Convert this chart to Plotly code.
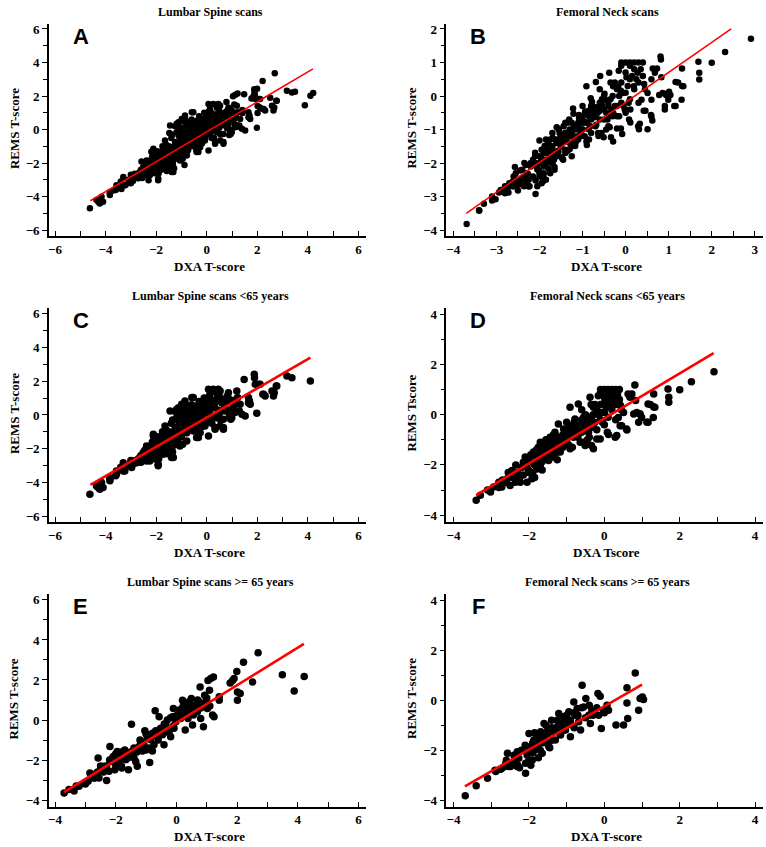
import plotly.graph_objects as go

# ---------------- data ----------------
# Lumbar spine, >= 65 years (panel E)
e_pts = [(-3.70,-3.64),(-3.54,-3.47),(-3.37,-3.55),(-3.21,-3.31),(-3.04,-3.14),(-2.91,-3.06),(-2.85,-2.64),
 (-2.71,-2.89),(-2.58,-1.90),(-2.55,-2.89),(-2.49,-2.43),(-2.38,-2.31),(-2.30,-3.02),(-2.22,-2.56),(-2.19,-1.32),
 (-2.14,-2.07),(-2.08,-1.82),(-2.03,-2.48),(-2.00,-2.23),(-1.95,-1.57),(-1.89,-2.07),(-1.84,-1.74),(-1.81,-2.31),
 (-1.75,-1.57),(-1.67,-1.98),(-1.62,-1.74),(-1.58,-2.48),(-1.48,-0.21),(-1.45,-1.57),(-1.40,-1.90),(-1.34,-2.07),
 (-1.29,-2.31),(-1.23,-1.32),(-1.18,-1.07),(-1.12,-1.54),(-1.07,-1.24),(-1.04,-0.53),(-0.96,-0.91),(-0.90,-1.40),
 (-0.88,-2.12),(-0.85,-0.99),(-0.79,-0.66),(-0.79,-1.54),(-0.74,-1.24),(-0.70,0.46),(-0.68,-0.53),(-0.63,-0.83),
 (-0.57,0.17),(-0.52,-0.41),(-0.46,-0.74),(-0.41,-1.24),(-0.35,-0.25),(-0.30,0.00),(-0.24,-0.58),(-0.19,-0.83),
 (-0.13,0.17),(-0.10,0.58),(-0.08,-0.41),(-0.02,-0.08),(0.03,0.25),(0.09,0.50),(0.14,0.08),(0.20,0.99),(0.23,0.74),
 (0.29,-0.50),(0.34,0.41),(0.38,0.08),(0.44,0.66),(0.49,1.07),(0.53,-0.25),(0.56,0.25),(0.60,0.74),(0.69,0.41),
 (0.75,0.91),(0.78,1.65),(0.80,0.08),(0.86,0.66),(0.89,-0.33),(0.93,1.24),(0.97,0.91),(1.02,0.58),(1.04,1.98),
 (1.09,1.49),(1.13,2.07),(1.19,0.25),(1.22,2.15),(1.24,0.17),(1.41,0.99),(1.41,1.16),(1.77,1.85),(1.85,1.98),(1.90,2.07),
 (1.99,2.43),(2.01,1.40),(2.01,0.99),(2.10,1.32),(2.21,2.89),(2.51,1.90),(2.69,3.36),(3.49,2.26),(3.88,1.45),(4.21,2.18),
 (-2.8,-2.7),(-2.6,-2.6),(-2.5,-2.3),(-2.4,-2.6),(-2.3,-2.3),(-2.2,-2.0),(-2.1,-1.9),(-2.0,-1.7),(-1.9,-1.8),
 (-1.8,-1.6),(-1.8,-2.4),(-1.7,-1.5),(-1.6,-1.9),(-1.5,-1.6),(-1.4,-1.4),(-1.3,-1.6),(-1.2,-1.0),(-1.1,-1.2),
 (-1.0,-0.7),(-1.0,-1.5),(-0.9,-0.9),(-0.8,-0.8),(-0.7,-0.6),(-0.6,-1.0),(-0.5,-0.5),(-0.4,-0.2),(-0.3,-0.6),
 (-0.2,0.1),(-0.1,-0.3),(0.0,0.2),(0.1,0.3),(0.2,0.6),(0.3,0.2),(0.4,0.9),(0.5,0.4),(0.6,0.6),(0.7,1.0),(0.8,0.6),
 (0.9,0.8),(1.0,1.1),(1.1,0.7),(-3.0,-3.2),(-3.3,-3.3),(-2.7,-2.9)]

# Femoral neck, >= 65 years (panel F)
f_pts = [(-3.69,-3.82),(-3.40,-3.42),(-3.10,-3.12),(-2.88,-2.85),(-2.75,-2.76),(-2.62,-2.55),(-2.57,-2.12),
 (-2.49,-2.65),(-2.40,-2.45),(-2.31,-2.65),(-2.31,-2.06),(-2.27,-2.32),(-2.09,-2.92),(-2.09,-2.52),(-2.05,-2.19),
 (-2.00,-1.33),(-1.96,-1.86),(-1.91,-2.39),(-1.87,-1.59),(-1.83,-1.99),(-1.78,-1.46),(-1.74,-1.79),(-1.69,-1.26),
 (-1.65,-2.12),(-1.60,-0.93),(-1.56,-1.66),(-1.52,-1.39),(-1.47,-1.86),(-1.40,-0.80),(-1.38,-1.26),(-1.30,-1.59),
 (-1.25,-1.06),(-1.21,-0.53),(-1.16,-1.39),(-1.12,-0.93),(-1.08,-0.66),(-1.03,-1.19),(-0.99,-0.80),(-0.94,-0.46),
 (-0.90,-1.46),(-0.86,-0.99),(-0.81,-0.07),(-0.78,-0.60),(-0.72,-0.33),(-0.68,-0.86),(-0.63,-1.19),(-0.59,0.60),
 (-0.55,-0.27),(-0.49,0.07),(-0.41,-0.60),(-0.37,-0.93),(-0.33,-0.40),(-0.28,-0.53),(-0.17,0.27),(-0.11,0.16),
 (-0.08,-1.13),(-0.02,-0.40),(0.07,-0.20),(0.11,-0.40),(0.31,-0.99),(0.51,-0.99),(0.60,-0.11),(0.62,-0.73),
 (0.60,0.50),(0.82,1.09),(0.91,-0.40),(0.95,0.07),(1.04,0.03),(1.01,0.13),
 (-2.2,-2.0),(-2.1,-1.8),(-2.0,-2.0),(-1.9,-1.7),(-1.9,-2.1),(-1.8,-1.6),(-1.8,-1.9),(-1.7,-1.5),(-1.7,-2.0),
 (-1.6,-1.4),(-1.6,-1.7),(-1.5,-1.2),(-1.5,-1.5),(-1.4,-1.1),(-1.4,-1.6),(-1.3,-1.2),(-1.2,-1.3),(-1.1,-0.9),
 (-1.1,-1.2),(-1.0,-0.6),(-1.0,-1.0),(-0.9,-0.8),(-0.8,-0.5),(-0.8,-1.1),(-0.7,-0.6),(-0.6,-0.3),(-0.5,-0.7),
 (-0.4,-0.2),(-0.3,-0.6),(-2.4,-2.2),(-2.6,-2.4),(-2.3,-2.6),(-2.0,-2.4),(-1.85,-1.3),(-1.55,-1.0),(-1.25,-0.8),
 (-2.7,-2.7),(-2.9,-2.8),(-0.2,-0.3),(0.0,-0.5),(-0.15,-0.6),(-1.75,-2.3),(-1.45,-1.9),(-1.95,-2.6),(-2.25,-2.7),
 (-2.55,-2.65),(-2.45,-2.55)]

# Lumbar spine, < 65 years (panel C)
c_pts = [(-4.62,-4.70),(-4.36,-4.21),(-4.29,-4.31),(-4.23,-4.41),(-4.16,-4.01),(-4.10,-4.31),(-3.83,-3.91),
 (-3.83,-3.72),(-3.83,-3.81),(-3.57,-3.32),(-3.57,-3.52),(-3.30,-2.83),(-3.24,-3.32),(-3.30,-3.32),(-2.97,-2.92),
 (-2.97,-3.12),(-2.84,-2.73),(-2.77,-2.83),(-2.64,-2.53),(-2.51,-2.23),(-2.38,-1.84),(-2.38,-2.73),(-2.25,-2.73),
 (-2.25,-2.43),(-2.11,-1.15),(-2.11,-1.25),(-2.05,-2.04),(-1.92,-3.02),(-1.92,-2.92),(-1.85,-1.64),(-1.78,-1.34),
 (-1.72,-2.23),(-1.72,-2.33),(-1.65,-0.65),(-1.59,-1.34),(-1.59,-1.84),(-1.52,-1.05),(-1.45,0.24),(-1.39,-1.84),
 (-1.39,-2.53),(-1.32,-2.53),(-1.32,-1.54),(-1.25,-0.75),(-1.19,0.34),(-1.19,-0.16),(-1.12,-1.34),(-1.12,0.43),
 (-1.06,0.14),(-1.06,-1.84),(-0.99,0.63),(-0.99,-1.15),(-0.95,-1.74),(-0.92,-0.45),(-0.92,-0.26),(-0.86,0.83),
 (-0.86,0.63),(-0.79,-1.05),(-0.79,-1.54),(-0.73,-0.16),(-0.73,-0.65),(-0.66,0.43),(-0.66,0.24),(-0.59,-0.65),
 (-0.59,1.03),(-0.53,1.03),(-0.53,-0.95),(-0.46,0.14),(-0.46,-0.26),(-0.40,-1.34),(-0.40,0.53),(-0.33,-0.45),
 (-0.33,-1.34),(-0.29,0.34),(-0.26,-1.05),(-0.20,-0.06),(-0.20,0.24),(-0.13,0.63),(-0.07,-0.65),(0.00,0.93),
 (0.07,1.52),(0.07,0.14),(0.07,-1.25),(0.13,-0.26),(0.13,1.23),(0.20,0.83),(0.26,0.43),(0.26,1.52),(0.33,-0.75),
 (0.33,-0.85),(0.40,-0.16),(0.46,1.52),(0.49,1.13),(0.53,-0.65),(0.53,1.42),(0.59,0.73),(0.66,-0.85),(0.66,-0.26),
 (0.66,-0.75),(0.73,0.24),(0.86,1.32),(0.90,0.93),(0.95,-0.26),(0.99,-0.16),(1.06,0.53),(1.12,0.14),(1.19,1.42),
 (1.22,1.03),(1.29,0.24),(1.32,0.63),(1.39,0.04),(1.52,-0.06),(1.48,2.11),(1.69,0.83),(1.72,0.63),(1.65,1.03),
 (1.65,0.73),(1.88,2.41),(1.89,2.21),(1.92,1.82),(1.98,0.10),(2.05,1.82),(2.11,1.82),(2.22,1.23),(2.25,1.23),
 (2.31,1.13),(2.58,1.42),(2.64,1.13),(2.67,1.32),(2.75,1.72),(2.77,1.72),(3.17,2.31),(3.37,2.21),(4.10,2.02),
 (-2.6,-2.4),(-2.5,-2.6),(-2.4,-2.2),(-2.3,-2.0),(-2.2,-1.8),(-2.2,-2.5),(-2.1,-2.2),(-2.0,-1.6),(-2.0,-2.4),
 (-1.9,-1.9),(-1.8,-1.5),(-1.8,-2.1),(-1.7,-1.2),(-1.7,-1.8),(-1.6,-1.5),(-1.6,-2.0),(-1.5,-1.0),(-1.5,-1.7),
 (-1.4,-1.3),(-1.4,-0.5),(-1.3,-1.0),(-1.3,-1.8),(-1.2,-0.8),(-1.2,-1.4),(-1.1,-0.4),(-1.1,-1.0),(-1.0,-0.2),
 (-1.0,-0.7),(-1.0,-1.3),(-0.9,0.1),(-0.9,-0.9),(-0.8,-0.4),(-0.8,0.3),(-0.7,-0.1),(-0.7,-0.8),(-0.6,0.6),
 (-0.6,-0.3),(-0.5,0.0),(-0.5,-0.6),(-0.4,0.3),(-0.4,-0.9),(-0.3,0.8),(-0.3,-0.2),(-0.2,0.4),(-0.2,-0.7),
 (-0.1,0.1),(-0.1,1.0),(0.0,-0.3),(0.0,0.5),(0.1,0.2),(0.1,1.1),(0.2,-0.5),(0.3,0.6),(0.4,1.3),(0.5,0.1),
 (0.6,0.9),(0.7,0.4),(0.8,1.1),(0.9,0.0),(1.0,0.8),(1.1,0.3),(-2.9,-2.9),(-2.7,-2.6),(-2.8,-2.7),(-3.1,-3.0),
 (-1.25,0.2),(-0.95,0.5),(-1.05,-0.1),(-1.35,-2.2),(-1.55,-2.3),
 (-2.45,-2.1),(-2.35,-2.5),(-2.15,-1.6),(-2.05,-2.6),(-1.95,-1.3),(-1.85,-2.3),(-1.75,-1.0),(-1.65,-1.6),
 (-1.55,-1.2),(-1.45,-2.0),(-1.35,-0.3),(-1.25,-1.2),(-1.15,-1.6),(-1.05,-0.4),(-0.95,-1.0),(-0.85,-0.1),
 (-0.75,0.1),(-0.65,-0.4),(-0.55,0.3),(-0.45,-0.4),(-0.35,0.5),(-0.25,-0.3),(-0.15,0.2),(-0.05,-0.5),(0.05,0.7),
 (0.15,0.4),(0.25,-0.1),(0.35,0.9),(0.45,0.3),(0.55,-0.3),(0.75,0.7),(0.85,0.3),(1.15,0.9),(-1.9,-2.6),
 (-2.6,-2.8),(-3.4,-3.1),(-3.6,-3.6),(-3.0,-2.7),(-2.3,-2.2),(-1.6,-0.9)]

# Femoral neck, < 65 years (panel D)
d_pts = [(-3.40,-3.41),(-3.29,-3.21),(-3.02,-3.08),(-2.94,-2.88),(-2.80,-2.69),(-2.72,-2.88),(-2.58,-2.55),
 (-2.50,-2.82),(-2.45,-2.22),(-2.36,-2.69),(-2.32,-2.42),(-2.23,-2.69),(-2.10,-1.69),(-2.05,-2.69),(-2.01,-2.22),
 (-1.92,-2.55),(-1.88,-1.49),(-1.83,-1.89),(-1.79,-2.16),(-1.75,-1.63),(-1.70,-1.10),(-1.66,-1.89),(-1.61,-1.36),
 (-1.57,-1.63),(-1.53,-1.10),(-1.48,-1.83),(-1.44,-0.90),(-1.39,-1.36),(-1.35,-1.63),(-1.31,-0.70),(-1.26,-1.16),
 (-1.22,-0.37),(-1.17,-1.49),(-1.13,-0.90),(-1.08,-0.57),(-1.04,-1.10),(-1.00,-0.30),(-0.95,-0.77),(-0.91,-1.36),
 (-0.91,0.29),(-0.86,-0.44),(-0.82,-0.90),(-0.78,-0.17),(-0.73,-0.63),(-0.69,0.42),(-0.64,-1.10),(-0.60,-0.44),
 (-0.56,-1.10),(-0.51,-1.23),(-0.47,-0.11),(-0.42,-0.70),(-0.38,0.69),(-0.34,-1.23),(-0.29,-1.36),(-0.29,0.29),
 (-0.25,-0.30),(-0.20,-0.97),(-0.16,0.75),(-0.11,-0.97),(-0.07,0.09),(-0.1,1.0),(0.0,1.0),(0.1,1.0),(0.2,1.0),
 (0.3,1.0),(0.4,1.0),(0.02,0.56),(0.08,-0.70),(0.11,-0.79),(0.19,0.29),(0.28,0.69),(0.29,-0.90),(0.33,-0.83),
 (0.37,-0.11),(0.42,-0.44),(0.43,0.36),(0.46,-0.44),(0.51,0.09),(0.59,-0.57),(0.60,-0.61),(0.63,0.82),(0.68,0.69),
 (0.73,0.82),(0.81,1.18),(0.83,0.56),(0.86,0.09),(0.78,0.03),(0.94,0.03),(0.95,0.03),(0.99,-0.11),(0.91,-0.30),
 (1.13,-0.30),(1.16,0.42),(1.16,-0.30),(1.30,-0.11),(1.31,0.82),(1.34,0.29),(1.22,0.4),(1.31,0.3),(1.69,1.02),
 (1.71,0.69),(1.71,0.49),(2.00,0.99),(2.31,1.31),(2.91,1.71),
 (-2.3,-2.3),(-2.2,-2.1),(-2.1,-2.0),(-2.0,-1.8),(-1.9,-1.9),(-1.9,-2.3),(-1.8,-1.7),(-1.8,-1.4),(-1.7,-1.6),
 (-1.7,-2.0),(-1.6,-1.3),(-1.6,-1.8),(-1.5,-1.2),(-1.5,-1.5),(-1.4,-1.1),(-1.4,-1.7),(-1.3,-1.0),(-1.3,-1.4),
 (-1.2,-0.9),(-1.2,-1.2),(-1.1,-0.8),(-1.1,-1.3),(-1.0,-0.6),(-1.0,-1.0),(-0.9,-0.5),(-0.9,-0.8),(-0.8,-0.3),
 (-0.8,-0.7),(-0.7,-0.5),(-0.7,-0.9),(-0.6,-0.2),(-0.6,-0.7),(-0.5,0.0),(-0.5,-0.4),(-0.4,-0.3),(-0.4,-0.9),
 (-0.3,0.0),(-0.3,-0.5),(-0.2,0.2),(-0.2,-0.6),(-0.1,0.4),(-0.1,-0.2),(0.0,0.7),(0.0,0.1),(0.0,-0.4),(0.1,0.5),
 (0.1,-0.1),(0.2,0.8),(0.2,0.2),(0.3,0.4),(0.3,-0.2),(0.4,0.6),(-0.1,0.9),(0.1,0.9),(-2.5,-2.5),(-2.6,-2.7),
 (-2.4,-2.5),(-2.7,-2.6),(-2.0,-2.3),(-1.85,-2.5),(-1.55,-1.0),(-1.35,-0.8),(-2.15,-2.4),
 (-2.35,-2.0),(-2.25,-2.5),(-2.15,-1.9),(-2.05,-2.1),(-1.95,-1.6),(-1.85,-2.0),(-1.75,-1.3),(-1.65,-1.7),
 (-1.55,-1.4),(-1.45,-1.3),(-1.35,-1.2),(-1.25,-1.5),(-1.15,-1.0),(-1.05,-0.8),(-0.95,-1.2),(-0.85,-0.6),
 (-0.75,-0.4),(-0.65,-0.5),(-0.55,-0.1),(-0.45,-0.5),(-0.35,-0.1),(-0.25,0.4),(-0.15,0.0),(-0.05,-0.3),
 (0.05,0.3),(0.15,0.6),(0.25,0.5),(0.35,0.8),(0.45,0.2),(-2.8,-2.9),(-3.1,-3.0),(-2.55,-2.3),(-1.65,-2.2),
 (-1.25,-1.8),(-0.85,-1.3),(-0.45,-1.0),(-0.6,0.2),(-0.35,0.4)]

# regression lines (end points)
fit_a_x, fit_a_y = [-4.6, 4.2], [-4.25, 3.62]
fit_b_x, fit_b_y = [-3.7, 2.45], [-3.5, 2.0]
fit_c_x, fit_c_y = [-4.6, 4.1], [-4.15, 3.4]
fit_d_x, fit_d_y = [-3.4, 2.9], [-3.2, 2.45]
fit_e_x, fit_e_y = [-3.7, 4.2], [-3.6, 3.8]
fit_f_x, fit_f_y = [-3.7, 1.0], [-3.45, 0.62]

titles = ["Lumbar Spine scans", "Femoral Neck scans",
          "Lumbar Spine scans <65 years", "Femoral Neck scans <65 years",
          "Lumbar Spine scans >= 65 years", "Femoral Neck scans >= 65 years"]
letters = ["A", "B", "C", "D", "E", "F"]
x_titles = ["DXA T-score", "DXA T-score", "DXA T-score", "DXA Tscore", "DXA T-score", "DXA T-score"]
y_titles = ["REMS T-score", "REMS T-score", "REMS T-score", "REMS Tscore", "REMS T-score", "REMS T-score"]

# panel A = all lumbar (C + E), panel B = all femoral (D + F)
a_pts = c_pts + e_pts
b_pts = d_pts + f_pts

panels = [
    (a_pts, fit_a_x, fit_a_y),
    (b_pts, fit_b_x, fit_b_y),
    (c_pts, fit_c_x, fit_c_y),
    (d_pts, fit_d_x, fit_d_y),
    (e_pts, fit_e_x, fit_e_y),
    (f_pts, fit_f_x, fit_f_y),
]

# ---------------- layout geometry ----------------
W, H = 766, 847
col_px = [(48, 365), (446, 763)]
row_px = [(22, 235), (307, 522), (594, 808)]
x_ranges = [[-6.24, 6.28], [-4.16, 3.19], [-6.24, 6.28], [-4.19, 4.21], [-4.2, 6.23], [-4.19, 4.21]]
y_ranges = [[-6.36, 6.3], [-4.18, 2.15], [-6.36, 6.35], [-4.28, 4.25], [-4.35, 6.3], [-4.28, 4.25]]
x_dt = [2, 1, 2, 2, 2, 2]
y_dt = [2, 1, 2, 2, 2, 2]
msize = [6.5, 6.5, 7.5, 7.5, 7.5, 7.5]
lwidth = [1.6, 1.6, 2.6, 2.6, 2.6, 2.6]
xtitle_off = [30, 30, 30, 30, 29, 29]

serif = "Liberation Serif"
fig = go.Figure()
layout = dict(
    width=W, height=H, margin=dict(l=0, r=0, t=0, b=0),
    paper_bgcolor="white", plot_bgcolor="white", showlegend=False,
)
annotations = []

for i, (pts, fx, fy) in enumerate(panels):
    r, c = divmod(i, 2)
    n = i + 1
    xa = "x" if n == 1 else f"x{n}"
    ya = "y" if n == 1 else f"y{n}"
    xs = [p[0] for p in pts]
    ys = [p[1] for p in pts]
    fig.add_trace(go.Scatter(x=xs, y=ys, mode="markers", xaxis=xa, yaxis=ya,
                             marker=dict(color="black", size=msize[i], line=dict(width=0)),
                             hoverinfo="skip"))
    fig.add_trace(go.Scatter(x=fx, y=fy, mode="lines", xaxis=xa, yaxis=ya,
                             line=dict(color="#ff0000", width=lwidth[i]), hoverinfo="skip"))
    x0, x1 = col_px[c]
    y0, y1 = row_px[r]
    common = dict(showline=True, linecolor="black", linewidth=1.5, showgrid=False, zeroline=False,
                  tickfont=dict(family=serif, size=13, color="black", weight="bold"),
                  ticklen=5, tickwidth=1, tickcolor="black")
    layout["xaxis" if n == 1 else f"xaxis{n}"] = dict(
        common, domain=[x0 / W, x1 / W], range=x_ranges[i], anchor=ya,
        dtick=x_dt[i], tick0=0, ticks="inside",
        minor=dict(dtick=x_dt[i] / 2, tick0=0, ticks="inside", ticklen=5, tickcolor="black"))
    layout["yaxis" if n == 1 else f"yaxis{n}"] = dict(
        common, domain=[1 - y1 / H, 1 - y0 / H], range=y_ranges[i], anchor=xa,
        dtick=y_dt[i], tick0=0, ticks="outside",
        minor=dict(dtick=y_dt[i] / 2, tick0=0, ticks="outside", ticklen=4, tickcolor="black"))
    cx = (x0 + x1) / 2
    # panel title
    annotations.append(dict(text=titles[i], x=(cx + 3) / W, y=1 - (y0 - 12) / H, xref="paper", yref="paper",
                            showarrow=False, xanchor="center", yanchor="middle",
                            font=dict(family=serif, size=12, color="black", weight="bold")))
    # x-axis title
    annotations.append(dict(text=x_titles[i], x=(cx + 2) / W, y=1 - (y1 + xtitle_off[i]) / H,
                            xref="paper", yref="paper",
                            showarrow=False, xanchor="center", yanchor="middle",
                            font=dict(family=serif, size=13, color="black", weight="bold")))
    # y-axis title
    annotations.append(dict(text=y_titles[i], x=(x0 - 35) / W, y=1 - ((y0 + y1) / 2 - 2) / H,
                            xref="paper", yref="paper", textangle=-90,
                            showarrow=False, xanchor="center", yanchor="middle",
                            font=dict(family=serif, size=13, color="black", weight="bold")))
    # panel letter
    annotations.append(dict(text=letters[i], x=(x0 + 32) / W, y=1 - (y0 + 13) / H, xref="paper", yref="paper",
                            showarrow=False, xanchor="center", yanchor="middle",
                            font=dict(family="Liberation Sans", size=22, color="black", weight="bold")))

layout["annotations"] = annotations
fig.update_layout(**layout)
fig.write_html("out.html", config={"displayModeBar": False},
               post_script="document.body.style.margin='0';")
